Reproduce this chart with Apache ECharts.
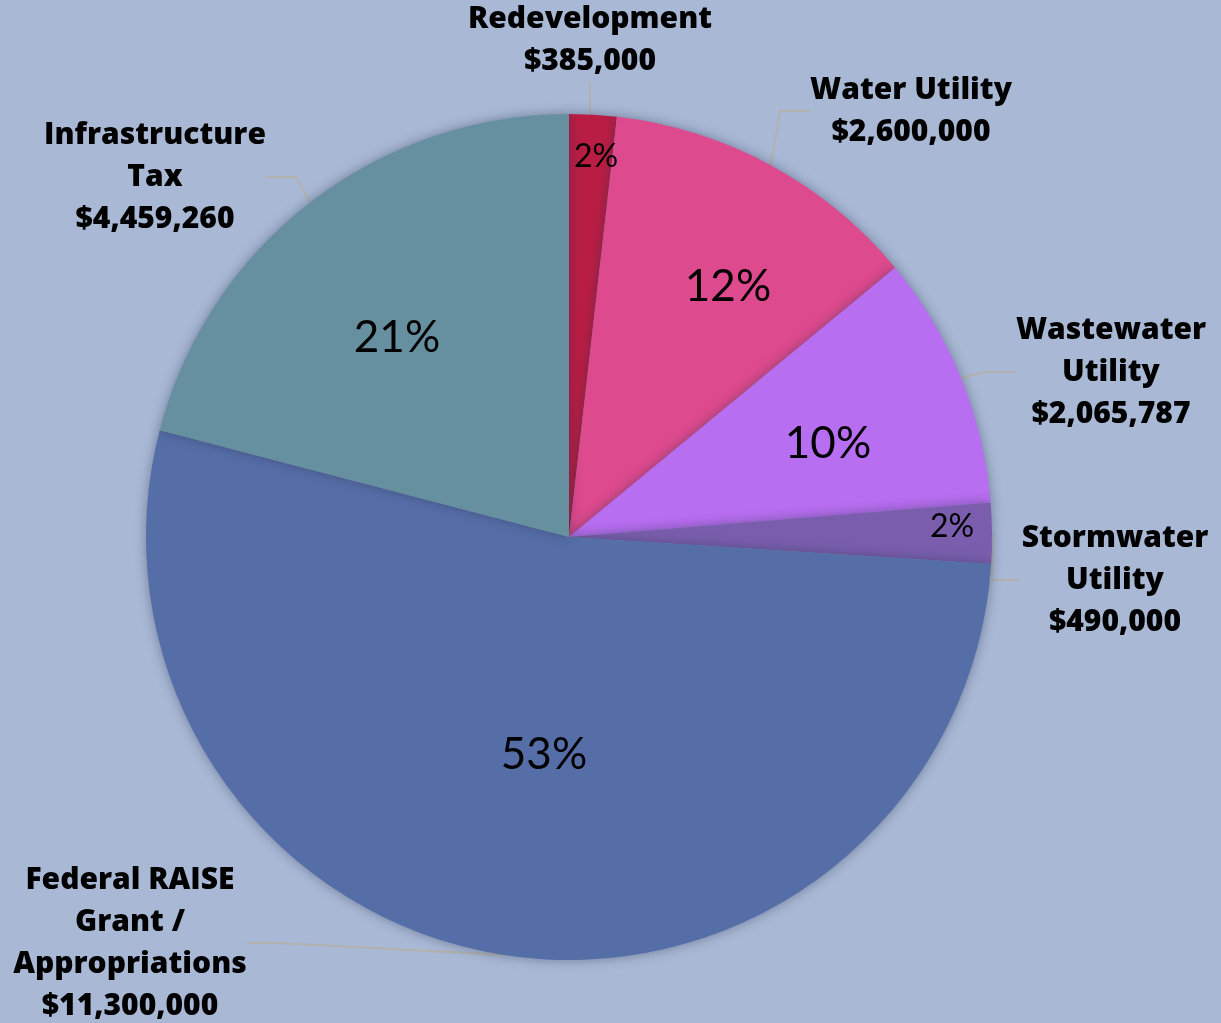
<!DOCTYPE html>
<html>
<head>
<meta charset="utf-8">
<script src="https://cdn.jsdelivr.net/npm/echarts@6/dist/echarts.min.js"></script>
<style>
  html, body { margin: 0; padding: 0; background: #a9b9d5; }
  #chart { width: 1221px; height: 1023px; }
</style>
</head>
<body>
<div id="chart"></div>
<script>
// 数据
const categories = ['Redevelopment', 'Water Utility', 'Wastewater Utility', 'Stormwater Utility', 'Federal RAISE Grant / Appropriations', 'Infrastructure Tax'];
const labelNames = ['Redevelopment', 'Water Utility', 'Wastewater\nUtility', 'Stormwater\nUtility', 'Federal RAISE\nGrant /\nAppropriations', 'Infrastructure\nTax'];
const amounts = [385000, 2600000, 2065787, 490000, 11300000, 4459260];
const colors = ['#ba1d44', '#de4a8e', '#b86ef0', '#7a5ead', '#566ea8', '#66909f'];

// 标签位置 (label centers)
const outerLabelPos = [[590, 40], [911, 111], [1111, 372], [1115, 580], [130, 943], [155, 177]];
const innerLabelPos = [[596, 157], [728, 287], [828, 444], [952, 527], [544, 755], [397, 338]];

const chart = echarts.init(document.getElementById('chart'));

const pieData = categories.map((c, i) => ({ name: c, value: amounts[i], itemStyle: { color: colors[i] } }));

const option = {
  backgroundColor: '#a9b9d5',
  animation: false,
  series: [
    {
      type: 'pie',
      center: [569, 537],
      radius: 423,
      startAngle: 90,
      clockwise: true,
      data: pieData,
      itemStyle: {
        shadowBlur: 12,
        shadowColor: 'rgba(40,50,80,0.45)'
      },
      label: {
        show: true,
        position: 'outside',
        fontFamily: 'Open Sans',
        fontWeight: 800,
        fontSize: 30,
        lineHeight: 42,
        color: '#000',
        align: 'center',
        width: 190,
        overflow: 'none',
        formatter: (p) => labelNames[p.dataIndex] + '\n$' + p.value.toLocaleString('en-US')
      },
      labelLine: {
        show: true,
        lineStyle: { color: '#b3b1ad', width: 2 }
      },
      labelLayout: (p) => ({
        x: outerLabelPos[p.dataIndex][0],
        y: outerLabelPos[p.dataIndex][1],
        align: 'center',
        verticalAlign: 'middle'
      })
    },
    {
      type: 'pie',
      center: [569, 537],
      radius: 423,
      startAngle: 90,
      clockwise: true,
      silent: true,
      data: pieData.map((d) => ({ name: d.name, value: d.value, itemStyle: { color: 'rgba(0,0,0,0)' } })),
      label: {
        show: true,
        position: 'inside',
        fontFamily: 'Lato',
        color: '#000',
        formatter: (p) => Math.round(p.percent) + '%',
        fontSize: 44
      },
      labelLine: { show: false },
      labelLayout: (p) => ({
        x: innerLabelPos[p.dataIndex][0],
        y: innerLabelPos[p.dataIndex][1],
        align: 'center',
        verticalAlign: 'middle',
        fontSize: (amounts[p.dataIndex] < 1000000) ? 32 : 44
      })
    }
  ]
};

chart.setOption(option);
</script>
</body>
</html>
